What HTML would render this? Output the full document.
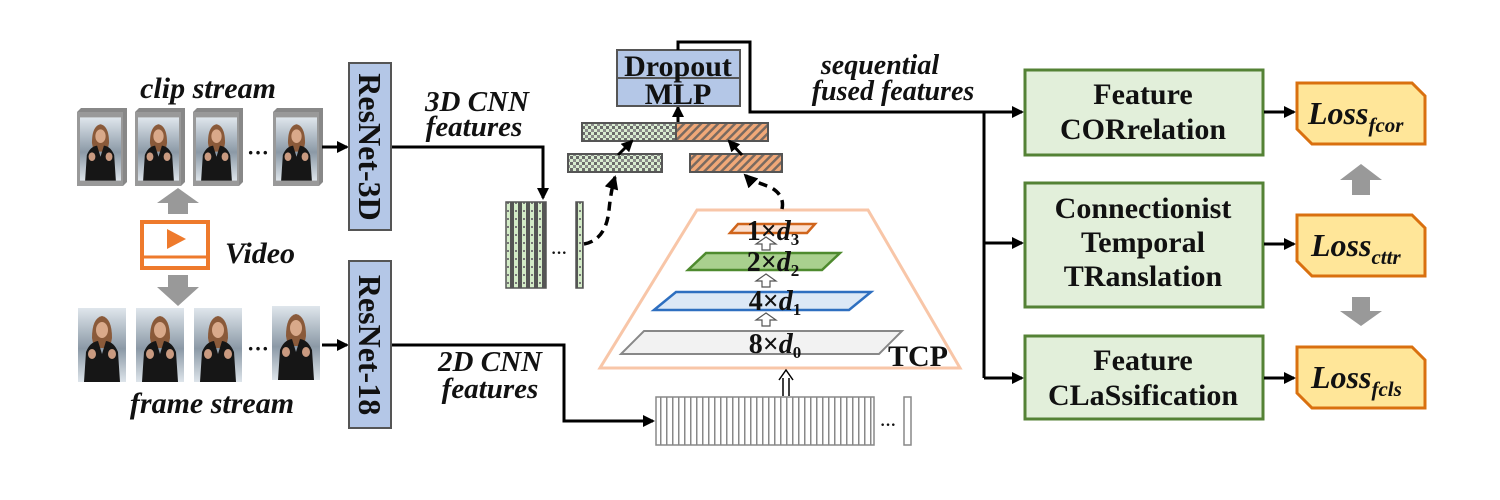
<!DOCTYPE html>
<html><head><meta charset="utf-8"><style>
html,body{margin:0;padding:0;background:#fff;}
svg{display:block;}
text{font-family:"Liberation Serif",serif;font-weight:bold;fill:#111;}
.it{font-style:italic;}
</style></head><body>
<svg width="1500" height="500" viewBox="0 0 1500 500" xmlns="http://www.w3.org/2000/svg">
<defs>
<linearGradient id="bg" x1="0" y1="0" x2="0" y2="1">
<stop offset="0" stop-color="#dfe6ec"/><stop offset="0.55" stop-color="#8b99a6"/><stop offset="1" stop-color="#dde4ea"/>
</linearGradient>
<symbol id="person" viewBox="0 0 48 74">
<rect width="48" height="74" fill="url(#bg)"/>
<path d="M14 30 Q14 10 24 8 Q34 10 34 30 L32 40 L16 40Z" fill="#8a5a3a"/>
<ellipse cx="24" cy="22" rx="6" ry="8" fill="#d9a98a"/>
<path d="M6 74 L8 44 Q12 34 20 33 L24 46 L28 33 Q36 34 40 44 L42 74Z" fill="#161616"/>
<ellipse cx="14" cy="46" rx="4" ry="5" fill="#c99a80"/>
<ellipse cx="34" cy="46" rx="4" ry="5" fill="#c99a80"/>
</symbol>
<pattern id="chk" width="6" height="6" patternUnits="userSpaceOnUse">
<rect width="6" height="6" fill="#d8ecd0"/><rect width="3" height="3" fill="#6a6a6a"/><rect x="3" y="3" width="3" height="3" fill="#8a8a8a"/>
</pattern>
<pattern id="hat" width="6" height="6" patternUnits="userSpaceOnUse" patternTransform="rotate(45)">
<rect width="6" height="6" fill="#f0a878"/><rect width="2.5" height="6" fill="#7a6a60"/>
</pattern>
<pattern id="vstr" width="6" height="10" patternUnits="userSpaceOnUse">
<rect width="6" height="10" fill="#fff"/><rect width="1.5" height="10" fill="#888"/>
</pattern>
<pattern id="gcol" width="8" height="8" patternUnits="userSpaceOnUse">
<rect width="8" height="8" fill="#555"/><rect x="2" width="4" height="8" fill="#d4ecc8"/><rect x="3" y="2" width="2" height="2" fill="#777"/>
</pattern>
<marker id="ar" markerWidth="12" markerHeight="12" refX="10" refY="6" orient="auto" markerUnits="userSpaceOnUse"><path d="M0 0 L12 6 L0 12Z" fill="#000"/></marker>
<marker id="ar2" markerWidth="14" markerHeight="14" refX="12" refY="7" orient="auto" markerUnits="userSpaceOnUse"><path d="M0 0 L14 7 L0 14Z" fill="#000"/></marker>
</defs>

<!-- clip stream -->
<text x="208" y="98" font-size="30" text-anchor="middle" class="it">clip stream</text>
<g>
<g transform="translate(77,108)"><path d="M0 4 L4 0 L50 0 L50 74 L46 78 L0 78Z" fill="#888"/><rect x="0" y="4" width="46" height="74" fill="#999"/><use href="#person" x="3" y="7" width="41" height="68"/></g>
<g transform="translate(135,108)"><path d="M0 4 L4 0 L50 0 L50 74 L46 78 L0 78Z" fill="#888"/><rect x="0" y="4" width="46" height="74" fill="#999"/><use href="#person" x="3" y="7" width="41" height="68"/></g>
<g transform="translate(193,108)"><path d="M0 4 L4 0 L50 0 L50 74 L46 78 L0 78Z" fill="#888"/><rect x="0" y="4" width="46" height="74" fill="#999"/><use href="#person" x="3" y="7" width="41" height="68"/></g>
<g transform="translate(273,108)"><path d="M0 4 L4 0 L50 0 L50 74 L46 78 L0 78Z" fill="#888"/><rect x="0" y="4" width="46" height="74" fill="#999"/><use href="#person" x="3" y="7" width="41" height="68"/></g>
<text x="247" y="160" font-size="22">···</text>
</g>
<!-- frame stream -->
<use href="#person" x="77" y="308" width="50" height="74"/>
<use href="#person" x="135" y="308" width="50" height="74"/>
<use href="#person" x="193" y="308" width="50" height="74"/>
<use href="#person" x="271" y="306" width="50" height="74"/>
<text x="247" y="356" font-size="22">···</text>
<text x="212" y="413" font-size="30" class="it" text-anchor="middle">frame stream</text>

<!-- arrows from video -->
<path d="M168 214 L168 203 L157 203 L178 188 L199 203 L188 203 L188 214Z" fill="#999"/>
<path d="M168 275 L188 275 L188 287 L199 287 L178 306 L157 287 L168 287Z" fill="#999"/>
<!-- video icon -->
<rect x="142" y="222" width="66" height="46" fill="none" stroke="#ee7a2c" stroke-width="4"/>
<line x1="142" y1="257" x2="208" y2="257" stroke="#ee7a2c" stroke-width="3"/>
<path d="M167 229 L167 249 L186 239Z" fill="#ee7a2c"/>
<text x="225" y="263" font-size="30" class="it">Video</text>

<!-- arrows to resnets -->
<line x1="322" y1="147" x2="347" y2="147" stroke="#000" stroke-width="3" marker-end="url(#ar)"/>
<line x1="322" y1="345" x2="347" y2="345" stroke="#000" stroke-width="3" marker-end="url(#ar)"/>

<!-- ResNets -->
<rect x="349" y="63" width="42" height="167" fill="#b4c7e7" stroke="#555" stroke-width="2"/>
<text transform="translate(359,147) rotate(90)" font-size="32" text-anchor="middle">ResNet-3D</text>
<rect x="349" y="261" width="42" height="167" fill="#b4c7e7" stroke="#555" stroke-width="2"/>
<text transform="translate(359,345) rotate(90)" font-size="32" text-anchor="middle">ResNet-18</text>

<!-- 3D CNN features -->
<text x="477" y="111" font-size="29" class="it" text-anchor="middle">3D CNN</text>
<text x="474" y="136" font-size="29" class="it" text-anchor="middle">features</text>
<path d="M392 147 L543 147 L543 198" fill="none" stroke="#000" stroke-width="3" marker-end="url(#ar)"/>
<rect x="506" y="202" width="40" height="86" fill="url(#gcol)" stroke="#555" stroke-width="1.5"/>
<text x="551" y="258" font-size="16">···</text>
<rect x="576" y="202" width="7" height="86" fill="url(#gcol)" stroke="#555" stroke-width="1.5"/>
<path d="M584 244 Q606 240 609 210 Q611 190 615 177" fill="none" stroke="#000" stroke-width="3.5" stroke-dasharray="9,6" marker-end="url(#ar2)"/>

<!-- 2D CNN features -->
<path d="M392 345 L564 345 L564 421 L653 421" fill="none" stroke="#000" stroke-width="3" marker-end="url(#ar)"/>
<text x="490" y="371" font-size="29" class="it" text-anchor="middle">2D CNN</text>
<text x="490" y="398" font-size="29" class="it" text-anchor="middle">features</text>
<rect x="656" y="397" width="218" height="48" fill="url(#vstr)" stroke="#888" stroke-width="1.5"/>
<text x="880" y="430" font-size="16">···</text>
<rect x="904" y="397" width="7" height="48" fill="#fff" stroke="#888" stroke-width="1.5"/>

<!-- TCP trapezoid -->
<path d="M697 210 L868 210 L960 368 L600 368Z" fill="none" stroke="#f8c6a8" stroke-width="3"/>
<path d="M621 354 L644 331 L902 331 L879 354Z" fill="#f2f2f2" stroke="#888" stroke-width="2"/>
<text x="775" y="353" font-size="28" text-anchor="middle">8×<tspan class="it">d</tspan><tspan font-size="17" dy="5">0</tspan></text>
<path d="M654 310 L676 292 L871 292 L849 310Z" fill="#dce8f6" stroke="#2e6fc0" stroke-width="2.5"/>
<text x="775" y="310" font-size="28" text-anchor="middle">4×<tspan class="it">d</tspan><tspan font-size="17" dy="5">1</tspan></text>
<path d="M688 270 L706 253 L840 253 L822 270Z" fill="#a9d08e" stroke="#4e8a2e" stroke-width="2.5"/>
<text x="773" y="271" font-size="28" text-anchor="middle">2×<tspan class="it">d</tspan><tspan font-size="17" dy="5">2</tspan></text>
<path d="M730 233 L738 224 L815 224 L807 233Z" fill="#fbe0d0" stroke="#d0651c" stroke-width="2.5"/>
<text x="773" y="240" font-size="28" text-anchor="middle">1×<tspan class="it">d</tspan><tspan font-size="17" dy="5">3</tspan></text>
<path d="M762 326 L762 320 L756 320 L766 313 L776 320 L770 320 L770 326Z" fill="#fff" stroke="#555" stroke-width="1.2"/>
<path d="M762 287 L762 281 L756 281 L766 274 L776 281 L770 281 L770 287Z" fill="#fff" stroke="#555" stroke-width="1.2"/>
<path d="M762 250 L762 244 L756 244 L766 237 L776 244 L770 244 L770 250Z" fill="#fff" stroke="#555" stroke-width="1.2"/>
<text x="888" y="366" font-size="30">TCP</text>
<!-- double arrow up -->
<line x1="783" y1="396" x2="783" y2="378" stroke="#000" stroke-width="1.5"/>
<line x1="789" y1="396" x2="789" y2="378" stroke="#000" stroke-width="1.5"/>
<path d="M779 380 L786 370 L793 380" fill="none" stroke="#000" stroke-width="1.5"/>
<path d="M782 209 Q785 195 770 187 Q750 180 745 175" fill="none" stroke="#000" stroke-width="3.5" stroke-dasharray="9,6" marker-end="url(#ar2)"/>

<!-- feature bars -->
<rect x="568" y="154" width="94" height="18" fill="url(#chk)" stroke="#555" stroke-width="2"/>
<rect x="690" y="154" width="92" height="18" fill="url(#hat)" stroke="#555" stroke-width="2"/>
<rect x="582" y="123" width="94" height="18" fill="url(#chk)" stroke="#555" stroke-width="2"/>
<rect x="676" y="123" width="92" height="18" fill="url(#hat)" stroke="#555" stroke-width="2"/>
<line x1="618" y1="155" x2="632" y2="141" stroke="#000" stroke-width="3" marker-end="url(#ar)"/>
<line x1="742" y1="155" x2="729" y2="141" stroke="#000" stroke-width="3" marker-end="url(#ar)"/>
<line x1="678" y1="122" x2="678" y2="107" stroke="#000" stroke-width="3" marker-end="url(#ar)"/>

<!-- Dropout MLP -->
<rect x="617" y="50" width="123" height="56" fill="#b4c7e7" stroke="#555" stroke-width="2"/>
<line x1="617" y1="78" x2="740" y2="78" stroke="#555" stroke-width="2"/>
<text x="678" y="76" font-size="30" text-anchor="middle">Dropout</text>
<text x="678" y="104" font-size="30" text-anchor="middle">MLP</text>
<path d="M678 50 L678 42 L750 42 L750 112 L1022 112" fill="none" stroke="#000" stroke-width="3" marker-end="url(#ar)"/>
<text x="880" y="74" font-size="28" class="it" text-anchor="middle">sequential</text>
<text x="893" y="100" font-size="28" class="it" text-anchor="middle">fused features</text>

<!-- branch -->
<path d="M984 112 L984 378" fill="none" stroke="#000" stroke-width="3"/>
<line x1="984" y1="243" x2="1022" y2="243" stroke="#000" stroke-width="3" marker-end="url(#ar)"/>
<line x1="984" y1="378" x2="1022" y2="378" stroke="#000" stroke-width="3" marker-end="url(#ar)"/>

<!-- green boxes -->
<rect x="1025" y="70" width="238" height="85" fill="#e2efda" stroke="#548235" stroke-width="3"/>
<text x="1143" y="104" font-size="30" text-anchor="middle">Feature</text>
<text x="1143" y="139" font-size="30" text-anchor="middle">CORrelation</text>
<rect x="1025" y="183" width="238" height="124" fill="#e2efda" stroke="#548235" stroke-width="3"/>
<text x="1143" y="218" font-size="30" text-anchor="middle">Connectionist</text>
<text x="1143" y="252" font-size="30" text-anchor="middle">Temporal</text>
<text x="1143" y="286" font-size="30" text-anchor="middle">TRanslation</text>
<rect x="1025" y="336" width="238" height="83" fill="#e2efda" stroke="#548235" stroke-width="3"/>
<text x="1143" y="370" font-size="30" text-anchor="middle">Feature</text>
<text x="1143" y="405" font-size="30" text-anchor="middle">CLaSsification</text>

<line x1="1264" y1="112" x2="1294" y2="112" stroke="#000" stroke-width="3" marker-end="url(#ar)"/>
<line x1="1264" y1="244" x2="1294" y2="244" stroke="#000" stroke-width="3" marker-end="url(#ar)"/>
<line x1="1264" y1="378" x2="1294" y2="378" stroke="#000" stroke-width="3" marker-end="url(#ar)"/>

<!-- loss boxes -->
<path d="M1297 83 L1412 83 L1425 96 L1425 144 L1312 144 L1297 129Z" fill="#ffe699" stroke="#d9700f" stroke-width="3"/>
<text x="1308" y="124" font-size="32" class="it">Loss<tspan font-size="21" dy="8">fcor</tspan></text>
<path d="M1297 215 L1412 215 L1425 228 L1425 276 L1312 276 L1297 261Z" fill="#ffe699" stroke="#d9700f" stroke-width="3"/>
<text x="1311" y="256" font-size="32" class="it">Loss<tspan font-size="21" dy="8">cttr</tspan></text>
<path d="M1297 347 L1412 347 L1425 360 L1425 408 L1312 408 L1297 393Z" fill="#ffe699" stroke="#d9700f" stroke-width="3"/>
<text x="1311" y="388" font-size="32" class="it">Loss<tspan font-size="21" dy="8">fcls</tspan></text>

<path d="M1352 195 L1352 180 L1340 180 L1361 164 L1382 180 L1370 180 L1370 195Z" fill="#999"/>
<path d="M1352 297 L1370 297 L1370 311 L1382 311 L1361 326 L1340 311 L1352 311Z" fill="#999"/>
</svg>
</body></html>
